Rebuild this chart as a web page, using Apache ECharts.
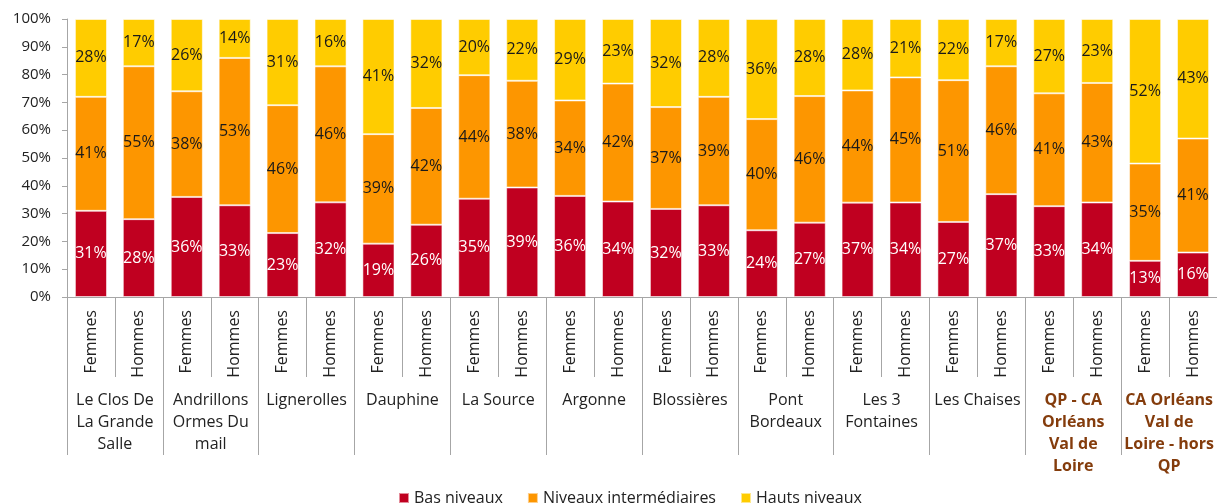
<!DOCTYPE html>
<html>
<head>
<meta charset="utf-8">
<script src="https://cdn.jsdelivr.net/npm/echarts@6/dist/echarts.min.js"></script>
<style>
  html, body { margin: 0; padding: 0; background: #fff; }
  #chart { width: 1217px; height: 503px; }
</style>
</head>
<body>
<div id="chart"></div>
<script>
// sous-catégories (une barre chacune)
const sexes = ['Femmes', 'Hommes']
// quartiers (groupes de 2 barres)
const groups = [
  'Le Clos De\nLa Grande\nSalle',
  'Andrillons\nOrmes Du\nmail',
  'Lignerolles',
  'Dauphine',
  'La Source',
  'Argonne',
  'Blossières',
  'Pont\nBordeaux',
  'Les 3\nFontaines',
  'Les Chaises',
  'QP - CA\nOrléans\nVal de\nLoire',
  'CA Orléans\nVal de\nLoire - hors\nQP'
]
const highlighted = [10, 11]

// valeurs affichées (en %), Femmes puis Hommes pour chaque quartier
const basNiveaux = [31, 28, 36, 33, 23, 32, 19, 26, 35, 39, 36, 34, 32, 33, 24, 27, 37, 34, 27, 37, 33, 34, 13, 16]
const niveauxInter = [41, 55, 38, 53, 46, 46, 39, 42, 44, 38, 34, 42, 37, 39, 40, 46, 44, 45, 51, 46, 41, 43, 35, 41]
const hautsNiveaux = [28, 17, 26, 14, 31, 16, 41, 32, 20, 22, 29, 23, 32, 28, 36, 28, 28, 21, 22, 17, 27, 23, 52, 43]

const yTicks = [0, 10, 20, 30, 40, 50, 60, 70, 80, 90, 100]

// barres empilées à 100 % : on ramène chaque barre à son total
const totals = basNiveaux.map((v, i) => v + niveauxInter[i] + hautsNiveaux[i])
const pct = arr => arr.map((v, i) => (v / totals[i]) * 100)

const barLabels = []
groups.forEach(() => sexes.forEach(s => barLabels.push(s)))

const font = '"Open Sans", sans-serif'
const axisGrey = '#a6a6a6'

const chart = echarts.init(document.getElementById('chart'))

const makeSeries = (name, raw, color, labelColor) => ({
  name: name,
  type: 'bar',
  stack: 'total',
  xAxisIndex: 0,
  barCategoryGap: '33%',
  data: pct(raw),
  itemStyle: {
    color: color,
    borderColor: 'rgba(255,255,255,0.55)',
    borderWidth: 1
  },
  label: {
    show: true,
    position: 'inside',
    color: labelColor,
    fontFamily: font,
    fontSize: 16,
    formatter: p => raw[p.dataIndex] + '%'
  },
  emphasis: { disabled: true }
})

const option = {
  animation: false,
  textStyle: { fontFamily: font },
  grid: {
    left: 67,
    right: -5,
    top: 19,
    bottom: 206
  },
  legend: {
    top: 485,
    left: 393,
    itemWidth: 10,
    itemHeight: 10,
    itemGap: 24,
    icon: 'rect',
    textStyle: { fontFamily: font, fontSize: 16, color: '#222' },
    data: ['Bas niveaux', 'Niveaux intermédiaires', 'Hauts niveaux']
  },
  xAxis: [
    {
      type: 'category',
      data: barLabels,
      position: 'bottom',
      axisLine: { show: true, lineStyle: { color: axisGrey } },
      axisTick: { show: true, interval: 0, length: 80, lineStyle: { color: axisGrey } },
      axisLabel: {
        interval: 0,
        rotate: 90,
        margin: 13,
        fontFamily: font,
        fontSize: 16,
        color: '#222'
      }
    },
    {
      type: 'category',
      data: groups.map((g, i) => highlighted.includes(i)
        ? { value: g, textStyle: { color: '#843c0c', fontWeight: 'bold' } }
        : g),
      position: 'bottom',
      axisLine: { show: false },
      axisTick: { show: true, interval: 0, length: 158, lineStyle: { color: axisGrey } },
      axisLabel: {
        interval: 0,
        margin: 92,
        fontFamily: font,
        fontSize: 16,
        lineHeight: 22,
        color: '#222'
      }
    }
  ],
  yAxis: {
    type: 'value',
    min: yTicks[0],
    max: yTicks[yTicks.length - 1],
    interval: 10,
    splitLine: { show: false },
    axisLine: { show: true, lineStyle: { color: axisGrey } },
    axisTick: { show: true, length: 5, lineStyle: { color: axisGrey } },
    axisLabel: {
      margin: 16,
      fontFamily: font,
      fontSize: 15,
      color: '#222',
      formatter: '{value}%'
    }
  },
  series: [
    makeSeries('Bas niveaux', basNiveaux, '#c00020', '#ffffff'),
    makeSeries('Niveaux intermédiaires', niveauxInter, '#fd9600', '#1a1a1a'),
    makeSeries('Hauts niveaux', hautsNiveaux, '#ffcc00', '#1a1a1a')
  ]
}

chart.setOption(option)
</script>
</body>
</html>
